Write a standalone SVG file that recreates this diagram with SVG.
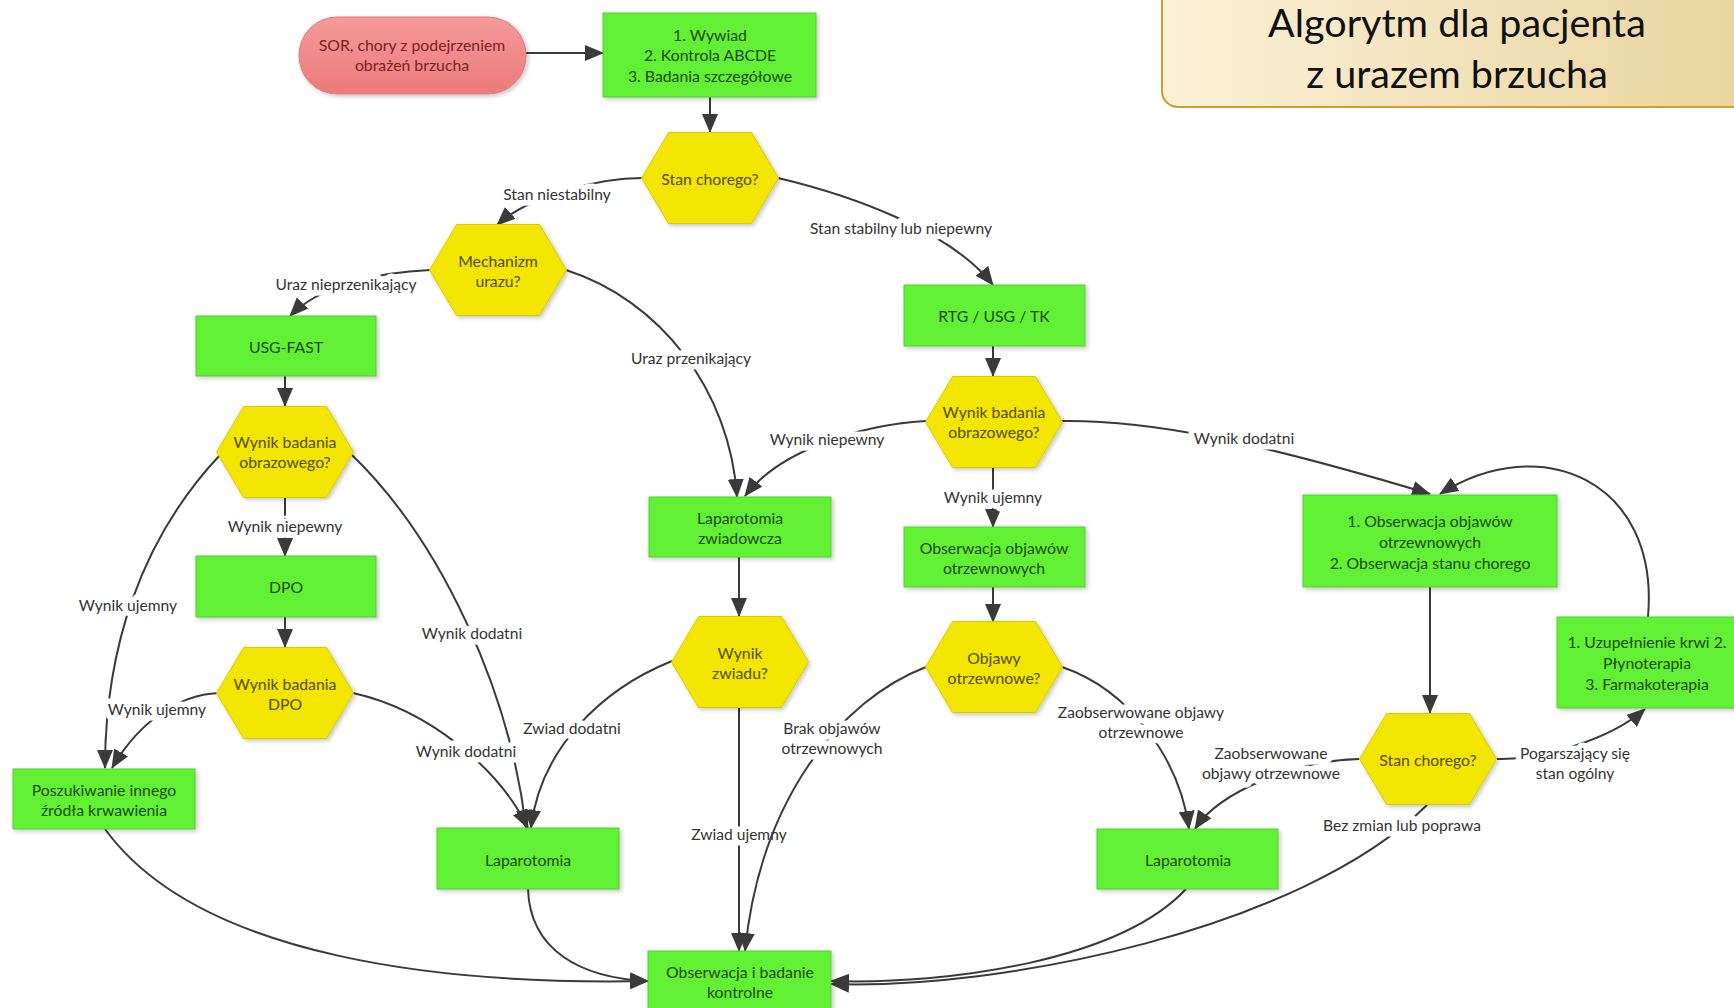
<svg xmlns="http://www.w3.org/2000/svg" width="1734" height="1008" viewBox="0 0 1734 1008">
  <defs>
    <style>
      .box { fill: #62F036; stroke: #52cf2c; stroke-width: 1; filter: url(#shadow); }
      .hex { fill: #F2E600; stroke: #d9cb00; stroke-width: 1; filter: url(#shadow); }
      .pill { fill: url(#pillGrad); stroke: #e27878; stroke-width: 1; filter: url(#shadow); }
      .t { font-family: Lato, "Liberation Sans", sans-serif; font-size: 15.8px; text-anchor: middle; dominant-baseline: central; }
      .tb { fill: #224a08; }
      .th { fill: #564c00; }
      .ts { fill: #7a2424; }
      .edge { fill: none; stroke: #3a3a3a; stroke-width: 2; marker-end: url(#arrow); }
      .lbl { font-family: Lato, "Liberation Sans", sans-serif; font-size: 15.6px; fill: #333333; text-anchor: middle; dominant-baseline: central; stroke: #ffffff; stroke-width: 11px; stroke-linejoin: round; paint-order: stroke; }
      .title { font-family: Lato, "Liberation Sans", sans-serif; font-size: 39.5px; fill: #111; text-anchor: middle; dominant-baseline: central; }
    </style>
    <marker id="arrow" markerUnits="userSpaceOnUse" markerWidth="20" markerHeight="16" refX="18" refY="8" orient="auto">
      <path d="M0,0 L19,8 L0,16 z" fill="#3a3a3a"/>
    </marker>
    <filter id="shadow" x="-10%" y="-10%" width="125%" height="130%">
      <feDropShadow dx="2" dy="2" stdDeviation="2" flood-color="#000" flood-opacity="0.22"/>
    </filter>
    <linearGradient id="pillGrad" x1="0" y1="0" x2="0" y2="1">
      <stop offset="0" stop-color="#f59a9a"/>
      <stop offset="1" stop-color="#ec7a7a"/>
    </linearGradient>
    <linearGradient id="titleGrad" x1="0" y1="0" x2="1" y2="0">
      <stop offset="0" stop-color="#fbf1d9"/>
      <stop offset="1" stop-color="#e9d49c"/>
    </linearGradient>
  </defs>

  <rect width="1734" height="1008" fill="#ffffff"/>

  <!-- title panel -->
  <g id="title">
    <rect x="1162" y="-20" width="600" height="127" rx="16" fill="url(#titleGrad)" stroke="#c9a227" stroke-width="2"/>
    <text class="title" x="1457" y="21">Algorytm dla pacjenta</text>
    <text class="title" x="1457" y="72">z urazem brzucha</text>
  </g>

  <!-- connectors -->
  <g id="connectors">
    <g id="e-sor-wywiad"><path class="edge" d="M526,53 L603,53"/></g>
    <g id="e-wywiad-stan"><path class="edge" d="M710,97 L710,132"/></g>
    <g id="e-stan-mech">
      <path class="edge" d="M642,178 C600,178 530,195 497,225"/>
      <text class="lbl" x="557" y="194">Stan niestabilny</text>
    </g>
    <g id="e-stan-rtg">
      <path class="edge" d="M778,178 C850,195 950,230 993,285"/>
      <text class="lbl" x="901" y="228">Stan stabilny lub niepewny</text>
    </g>
    <g id="e-mech-usg">
      <path class="edge" d="M430,270 C380,272 320,285 290,316"/>
      <text class="lbl" x="346" y="284">Uraz nieprzenikający</text>
    </g>
    <g id="e-mech-lapz">
      <path class="edge" d="M566,270 C660,300 730,390 737,497"/>
      <text class="lbl" x="691" y="358">Uraz przenikający</text>
    </g>
    <g id="e-usg-wynikL"><path class="edge" d="M285,376 L285,406"/></g>
    <g id="e-wynikL-dpo">
      <path class="edge" d="M285,498 L285,556"/>
      <text class="lbl" x="285" y="526">Wynik niepewny</text>
    </g>
    <g id="e-wynikL-posz">
      <path class="edge" d="M220,455 C140,540 105,650 105,768"/>
      <text class="lbl" x="128" y="605">Wynik ujemny</text>
    </g>
    <g id="e-wynikL-lap">
      <path class="edge" d="M352,455 C440,540 510,690 526,828"/>
      <text class="lbl" x="472" y="633">Wynik dodatni</text>
    </g>
    <g id="e-dpo-wynikDPO"><path class="edge" d="M285,617 L285,647"/></g>
    <g id="e-wynikDPO-posz">
      <path class="edge" d="M218,693 C180,695 140,720 112,768"/>
      <text class="lbl" x="157" y="709">Wynik ujemny</text>
    </g>
    <g id="e-wynikDPO-lap">
      <path class="edge" d="M353,693 C430,710 500,770 528,828"/>
      <text class="lbl" x="466" y="751">Wynik dodatni</text>
    </g>
    <g id="e-zwiad-lap">
      <path class="edge" d="M672,661 C600,690 540,750 531,828"/>
      <text class="lbl" x="572" y="728">Zwiad dodatni</text>
    </g>
    <g id="e-lapz-zwiad"><path class="edge" d="M739,557 L739,616"/></g>
    <g id="e-zwiad-obs">
      <path class="edge" d="M739,708 L739,951"/>
      <text class="lbl" x="739" y="834">Zwiad ujemny</text>
    </g>
    <g id="e-posz-obs"><path class="edge" d="M105,829 C200,960 450,985 648,981"/></g>
    <g id="e-lapL-obs"><path class="edge" d="M528,889 C530,950 580,978 648,981"/></g>
    <g id="e-rtg-wynikR"><path class="edge" d="M993,346 L993,376"/></g>
    <g id="e-wynikR-lapz">
      <path class="edge" d="M926,421 C860,425 780,450 745,496"/>
      <text class="lbl" x="827" y="439">Wynik niepewny</text>
    </g>
    <g id="e-wynikR-obsObj">
      <path class="edge" d="M993,468 L993,527"/>
      <text class="lbl" x="993" y="497">Wynik ujemny</text>
    </g>
    <g id="e-wynikR-obs2">
      <path class="edge" d="M1062,421 C1150,420 1250,440 1430,494"/>
      <text class="lbl" x="1244" y="438">Wynik dodatni</text>
    </g>
    <g id="e-obsObj-objawy"><path class="edge" d="M993,587 L993,622"/></g>
    <g id="e-objawy-obs">
      <path class="edge" d="M926,667 C840,700 760,800 745,951"/>
      <text class="lbl" x="832" y="728">Brak objawów</text>
      <text class="lbl" x="832" y="748">otrzewnowych</text>
    </g>
    <g id="e-objawy-lapR">
      <path class="edge" d="M1062,667 C1130,690 1180,760 1189,829"/>
      <text class="lbl" x="1141" y="712">Zaobserwowane objawy</text>
      <text class="lbl" x="1141" y="732">otrzewnowe</text>
    </g>
    <g id="e-lapR-obs"><path class="edge" d="M1186,889 C1120,960 950,985 831,981"/></g>
    <g id="e-obs2-stanR"><path class="edge" d="M1430,587 L1430,713"/></g>
    <g id="e-stanR-lapR">
      <path class="edge" d="M1359,759 C1300,760 1220,790 1195,829"/>
      <text class="lbl" x="1271" y="753">Zaobserwowane</text>
      <text class="lbl" x="1271" y="773">objawy otrzewnowe</text>
    </g>
    <g id="e-stanR-obs">
      <path class="edge" d="M1427,805 C1300,930 1000,990 831,984"/>
      <text class="lbl" x="1402" y="825">Bez zmian lub poprawa</text>
    </g>
    <g id="e-stanR-terapia">
      <path class="edge" d="M1497,759 C1540,760 1610,740 1645,709"/>
      <text class="lbl" x="1575" y="753">Pogarszający się</text>
      <text class="lbl" x="1575" y="773">stan ogólny</text>
    </g>
    <g id="e-terapia-obs2"><path class="edge" d="M1648,617 C1660,480 1540,430 1440,494"/></g>
  </g>

  <!-- nodes -->
  <g id="n-sor">
    <rect class="pill" x="299" y="17" width="227" height="77" rx="38"/>
    <text class="t ts" x="412" y="44">SOR, chory z podejrzeniem</text>
    <text class="t ts" x="412" y="64">obrażeń brzucha</text>
  </g>
  <g id="n-wywiad">
    <rect class="box" x="603" y="13" width="213" height="84"/>
    <text class="t tb" x="710" y="34">1. Wywiad</text>
    <text class="t tb" x="710" y="54">2. Kontrola ABCDE</text>
    <text class="t tb" x="710" y="75">3. Badania szczegółowe</text>
  </g>
  <g id="n-stan">
    <polygon class="hex" points="641.5,178 668.5,132.5 751.5,132.5 778.5,178 751.5,223.5 668.5,223.5"/>
    <text class="t th" x="710" y="178">Stan chorego?</text>
  </g>
  <g id="n-mech">
    <polygon class="hex" points="429.5,270 456.5,224.5 539.5,224.5 566.5,270 539.5,315.5 456.5,315.5"/>
    <text class="t th" x="498" y="260">Mechanizm</text>
    <text class="t th" x="498" y="280">urazu?</text>
  </g>
  <g id="n-usg">
    <rect class="box" x="196" y="316" width="180" height="60"/>
    <text class="t tb" x="286" y="346">USG-FAST</text>
  </g>
  <g id="n-wynikL">
    <polygon class="hex" points="216.5,452 243.5,406.5 326.5,406.5 353.5,452 326.5,497.5 243.5,497.5"/>
    <text class="t th" x="285" y="441">Wynik badania</text>
    <text class="t th" x="285" y="461">obrazowego?</text>
  </g>
  <g id="n-dpo">
    <rect class="box" x="196" y="556" width="180" height="61"/>
    <text class="t tb" x="286" y="586">DPO</text>
  </g>
  <g id="n-wynikDPO">
    <polygon class="hex" points="216.5,693 243.5,647.5 326.5,647.5 353.5,693 326.5,738.5 243.5,738.5"/>
    <text class="t th" x="285" y="683">Wynik badania</text>
    <text class="t th" x="285" y="703">DPO</text>
  </g>
  <g id="n-posz">
    <rect class="box" x="13" y="769" width="182" height="60"/>
    <text class="t tb" x="104" y="789">Poszukiwanie innego</text>
    <text class="t tb" x="104" y="809">źródła krwawienia</text>
  </g>
  <g id="n-lapL">
    <rect class="box" x="437" y="828" width="182" height="61"/>
    <text class="t tb" x="528" y="859">Laparotomia</text>
  </g>
  <g id="n-lapz">
    <rect class="box" x="649" y="497" width="182" height="60"/>
    <text class="t tb" x="740" y="517">Laparotomia</text>
    <text class="t tb" x="740" y="537">zwiadowcza</text>
  </g>
  <g id="n-zwiad">
    <polygon class="hex" points="671.5,662 698.5,616.5 781.5,616.5 808.5,662 781.5,707.5 698.5,707.5"/>
    <text class="t th" x="740" y="652">Wynik</text>
    <text class="t th" x="740" y="672">zwiadu?</text>
  </g>
  <g id="n-obs">
    <rect class="box" x="648" y="951" width="183" height="64"/>
    <text class="t tb" x="740" y="971">Obserwacja i badanie</text>
    <text class="t tb" x="740" y="991">kontrolne</text>
  </g>
  <g id="n-rtg">
    <rect class="box" x="904" y="285" width="181" height="61"/>
    <text class="t tb" x="994" y="315">RTG / USG / TK</text>
  </g>
  <g id="n-wynikR">
    <polygon class="hex" points="925.5,422 952.5,376.5 1035.5,376.5 1062.5,422 1035.5,467.5 952.5,467.5"/>
    <text class="t th" x="994" y="411">Wynik badania</text>
    <text class="t th" x="994" y="431">obrazowego?</text>
  </g>
  <g id="n-obsObj">
    <rect class="box" x="904" y="527" width="181" height="60"/>
    <text class="t tb" x="994" y="547">Obserwacja objawów</text>
    <text class="t tb" x="994" y="567">otrzewnowych</text>
  </g>
  <g id="n-objawy">
    <polygon class="hex" points="925.5,667 952.5,621.5 1035.5,621.5 1062.5,667 1035.5,712.5 952.5,712.5"/>
    <text class="t th" x="994" y="657">Objawy</text>
    <text class="t th" x="994" y="677">otrzewnowe?</text>
  </g>
  <g id="n-lapR">
    <rect class="box" x="1097" y="829" width="181" height="60"/>
    <text class="t tb" x="1188" y="859">Laparotomia</text>
  </g>
  <g id="n-obs2">
    <rect class="box" x="1303" y="495" width="254" height="92"/>
    <text class="t tb" x="1430" y="520">1. Obserwacja objawów</text>
    <text class="t tb" x="1430" y="541">otrzewnowych</text>
    <text class="t tb" x="1430" y="562">2. Obserwacja stanu chorego</text>
  </g>
  <g id="n-stanR">
    <polygon class="hex" points="1359.5,759 1386.5,713.5 1469.5,713.5 1496.5,759 1469.5,804.5 1386.5,804.5"/>
    <text class="t th" x="1428" y="759">Stan chorego?</text>
  </g>
  <g id="n-terapia">
    <rect class="box" x="1557" y="617" width="182" height="91"/>
    <text class="t tb" x="1647" y="641">1. Uzupełnienie krwi 2.</text>
    <text class="t tb" x="1647" y="662">Płynoterapia</text>
    <text class="t tb" x="1647" y="683">3. Farmakoterapia</text>
  </g>
</svg>
